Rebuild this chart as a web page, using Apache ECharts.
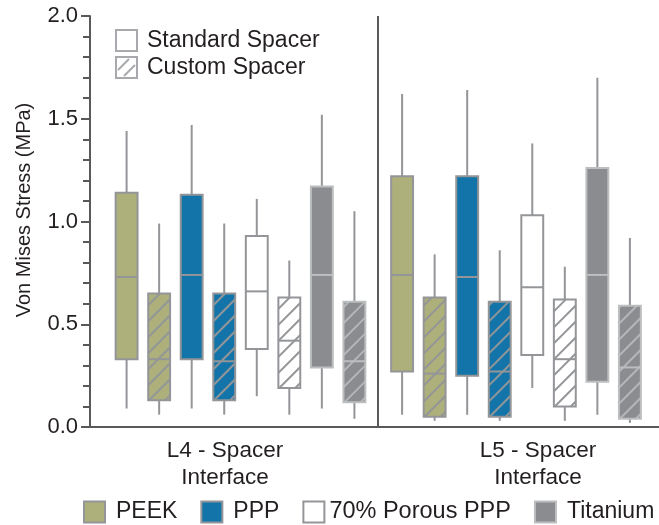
<!DOCTYPE html>
<html>
<head>
<meta charset="utf-8">
<script src="https://cdn.jsdelivr.net/npm/echarts@6/dist/echarts.min.js"></script>
<style>
  html, body { margin: 0; padding: 0; background: #ffffff; }
  #chart { width: 659px; height: 525px; }
</style>
</head>
<body>
<div id="chart"></div>
<script>
// ---- data -------------------------------------------------------------
const categories = ['L4 - Spacer\nInterface', 'L5 - Spacer\nInterface'];
const materials = ['PEEK', 'PPP', '70% Porous PPP', 'Titanium'];
const spacers = ['Standard Spacer', 'Custom Spacer'];
const yTickValues = [0, 0.5, 1.0, 1.5, 2.0];

// Von Mises stress (MPa) per interface: [min, Q1, median, Q3, max]
const peekStandard     = [[0.09, 0.33, 0.73, 1.14, 1.44], [0.06, 0.27, 0.74, 1.22, 1.62]];
const peekCustom       = [[0.06, 0.13, 0.33, 0.65, 0.99], [0.03, 0.05, 0.26, 0.63, 0.84]];
const pppStandard      = [[0.09, 0.33, 0.74, 1.13, 1.47], [0.06, 0.25, 0.73, 1.22, 1.64]];
const pppCustom        = [[0.06, 0.13, 0.32, 0.65, 0.99], [0.03, 0.05, 0.27, 0.61, 0.86]];
const porousStandard   = [[0.15, 0.38, 0.66, 0.93, 1.11], [0.19, 0.35, 0.68, 1.03, 1.38]];
const porousCustom     = [[0.06, 0.19, 0.42, 0.63, 0.81], [0.03, 0.10, 0.33, 0.62, 0.78]];
const titaniumStandard = [[0.09, 0.29, 0.74, 1.17, 1.52], [0.06, 0.22, 0.74, 1.26, 1.70]];
const titaniumCustom   = [[0.04, 0.12, 0.32, 0.61, 1.05], [0.02, 0.04, 0.29, 0.59, 0.92]];

const standardByMaterial = [peekStandard, pppStandard, porousStandard, titaniumStandard];
const customByMaterial = [peekCustom, pppCustom, porousCustom, titaniumCustom];

// ---- styles -----------------------------------------------------------
const FONT = '"Liberation Sans", Arial, Helvetica, sans-serif';
const TEXT = '#231f20';
const AXIS = '#58595b';
const WHISKER = '#939598';
const fills = ['#adb07a', '#1274a8', '#ffffff', '#8b8c8f'];
const borders = ['#939598', '#939598', '#939598', '#bcbec0'];
const hatchColors = ['#939598', '#939598', '#939598', '#b4b6b9'];
const SLOT_STEP = 0.113;      // distance between neighbouring boxes, fraction of band
const BOX_WIDTH = 0.076;      // box width, fraction of band
const GROUP_SHIFT = [6.5, -6]; // px nudge of each interface group
const HATCH_STEP = 16;

function hatchLines(x1, x2, yTop, yBot, color) {
  const out = [];
  const cMin = x1 + yTop, cMax = x2 + yBot;
  for (let c = cMax - 5; c > cMin; c -= HATCH_STEP) {
    const xa = Math.max(x1, c - yBot);
    const xb = Math.min(x2, c - yTop);
    if (xb - xa > 0.5) {
      out.push({
        type: 'line',
        shape: { x1: xa, y1: c - xa, x2: xb, y2: c - xb },
        style: { stroke: color, lineWidth: 2 }
      });
    }
  }
  return out;
}

function renderBox(params, api) {
  const m = params.seriesIndex;
  const ci = api.value(0);
  const si = api.value(1);
  const band = api.size([1, 0])[0];
  const slot = m * 2 + si;
  const cx = api.coord([ci, 0])[0] + (slot - 3.5) * band * SLOT_STEP + GROUP_SHIFT[ci];
  const half = band * BOX_WIDTH / 2;
  const y = k => api.coord([ci, api.value(k)])[1];
  const yMin = y(2), yQ1 = y(3), yMed = y(4), yQ3 = y(5), yMax = y(6);
  const x1 = cx - half, x2 = cx + half;

  const children = [
    { type: 'line', shape: { x1: cx, y1: yMax, x2: cx, y2: yMin },
      style: { stroke: WHISKER, lineWidth: 2 } },
    { type: 'rect', shape: { x: x1, y: yQ3, width: x2 - x1, height: yQ1 - yQ3 },
      style: { fill: fills[m] } }
  ];
  if (si === 1) {
    children.push(...hatchLines(x1, x2, yQ3, yQ1, hatchColors[m]));
  }
  children.push(
    { type: 'line', shape: { x1: x1, y1: yMed, x2: x2, y2: yMed },
      style: { stroke: borders[m], lineWidth: 2 } },
    { type: 'rect', shape: { x: x1, y: yQ3, width: x2 - x1, height: yQ1 - yQ3 },
      style: { fill: 'none', stroke: borders[m], lineWidth: 2 } }
  );
  return { type: 'group', children };
}

const series = materials.map((name, m) => ({
  name,
  type: 'custom',
  renderItem: renderBox,
  clip: false,
  itemStyle: { color: fills[m] },
  encode: { x: 0, y: [2, 3, 4, 5, 6] },
  data: categories.flatMap((c, ci) => [
    [ci, 0, ...standardByMaterial[m][ci]],
    [ci, 1, ...customByMaterial[m][ci]]
  ])
}));

// spacer key (top-left): plain box and hatched box
const KEY_X = 116, KEY_Y = 30, KEY_SIZE = 21, KEY_ROW = 27;
const spacerKey = spacers.flatMap((label, i) => {
  const top = KEY_Y + i * KEY_ROW;
  const els = [{
    type: 'rect',
    shape: { x: KEY_X, y: top, width: KEY_SIZE, height: KEY_SIZE },
    style: { fill: '#ffffff', stroke: '#a7a9ac', lineWidth: 2 }
  }];
  if (i === 1) {
    els.push(
      { type: 'line', shape: { x1: KEY_X + 2, y1: top + 13, x2: KEY_X + 13, y2: top + 2 },
        style: { stroke: '#a7a9ac', lineWidth: 2 } },
      { type: 'line', shape: { x1: KEY_X + 8, y1: top + 19, x2: KEY_X + 19, y2: top + 8 },
        style: { stroke: '#a7a9ac', lineWidth: 2 } }
    );
  }
  els.push({
    type: 'text',
    x: KEY_X + KEY_SIZE + 10,
    y: top + KEY_SIZE / 2 + 0.5,
    style: { text: label, fill: TEXT, font: '23px ' + FONT, verticalAlign: 'middle', align: 'left' }
  });
  return els;
});

const chart = echarts.init(document.getElementById('chart'), null, { renderer: 'canvas' });
chart.setOption({
  animation: false,
  backgroundColor: '#ffffff',
  textStyle: { fontFamily: FONT },
  // the plot area runs a little past the right edge of the canvas
  grid: { left: 90, width: 576, top: 16, height: 411, containLabel: false, outerBoundsMode: 'none' },
  xAxis: {
    type: 'category',
    data: categories,
    boundaryGap: true,
    axisLine: { lineStyle: { color: AXIS, width: 2 } },
    axisTick: { show: false },
    splitLine: { show: true, lineStyle: { color: AXIS, width: 2 } },
    axisLabel: {
      margin: 10,
      formatter: (value, index) => value.split('\n')
        .map(s => (index === 0 ? '{l|' : '{r|') + s + '}').join('\n'),
      rich: {
        l: { fontSize: 22.5, lineHeight: 27, color: TEXT, fontFamily: FONT, padding: [0, 18, 0, 0] },
        r: { fontSize: 22.5, lineHeight: 27, color: TEXT, fontFamily: FONT, padding: [0, 0, 0, 32] }
      }
    }
  },
  yAxis: {
    type: 'value',
    min: yTickValues[0],
    max: yTickValues[yTickValues.length - 1],
    interval: 0.5,
    name: 'Von Mises Stress (MPa)',
    nameLocation: 'middle',
    nameGap: 56,
    nameTextStyle: { fontSize: 20, color: TEXT, fontFamily: FONT, padding: [0, 0, 0, 23] },
    axisLine: { show: true, lineStyle: { color: AXIS, width: 2 } },
    axisTick: { show: true, length: 9, lineStyle: { color: AXIS, width: 2 } },
    minorTick: { show: true, splitNumber: 5, length: 7, lineStyle: { color: AXIS, width: 2 } },
    splitLine: { show: false },
    axisLabel: {
      margin: 12,
      fontSize: 22,
      color: TEXT,
      formatter: v => v.toFixed(1)
    }
  },
  legend: {
    left: 83,
    top: 500,
    padding: 0,
    icon: 'rect',
    itemWidth: 21,
    itemHeight: 21,
    itemGap: 23,
    selectedMode: false,
    itemStyle: { borderColor: '#939598', borderWidth: 2 },
    formatter: name => (name === '70% Porous PPP' ? '{t|' : '{p|') + name + '}',
    textStyle: {
      fontSize: 23,
      color: TEXT,
      rich: {
        p: { fontSize: 23, color: TEXT, fontFamily: FONT, padding: [0, 0, 0, 6] },
        t: { fontSize: 23.5, color: TEXT, fontFamily: FONT }
      }
    },
    data: materials.map((name, m) => ({
      name,
      itemStyle: { color: fills[m], borderColor: m === 3 ? '#bcbec0' : '#939598', borderWidth: 2 }
    }))
  },
  graphic: spacerKey,
  series
});
</script>
</body>
</html>
